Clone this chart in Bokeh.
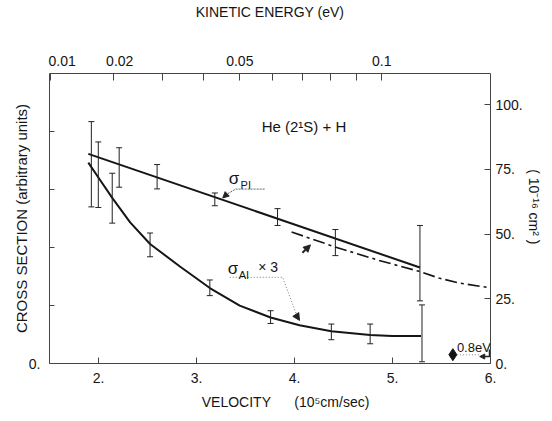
import math
from bokeh.plotting import figure
from bokeh.models import Range1d, LinearAxis, FixedTicker, Label, Arrow, NormalHead
from bokeh.embed import file_html
from bokeh.resources import INLINE

FONT = "Liberation Sans"
INK = "#151515"
NB = "\u00a0"

# ---------------- data ----------------
vel_ticks = [2, 3, 4, 5, 6]
vel_labels = ["2.", "3.", "4.", "5.", "6."]
ke_ticks = [0.01, 0.02, 0.03, 0.04, 0.05, 0.06, 0.07, 0.08, 0.09, 0.1, 0.15]
ke_labels = [NB * 6 + "0.01", NB * 3 + "0.02", "", "", "0.05", "", "", "", "",
             "0.1", "0.15" + NB * 2]
left_ticks = [0, 1, 2, 3, 4]
left_labels = ["0.", "", "", "", ""]
right_ticks = [0, 25, 50, 75, 100]
right_labels = ["0.", "25.", "50.", "75.", "100."]

# sigma_PI : straight line and error bars (arbitrary units)
pi_line_v = [1.896, 5.280]
pi_line_y = [3.615, 1.655]
pi_bar_v = [1.927, 2.211, 2.598, 3.187, 3.827, 4.417, 5.280]
pi_bar_lo = [2.70, 3.04, 3.01, 2.72, 2.38, 1.86, 1.08]
pi_bar_hi = [4.17, 3.72, 3.43, 2.94, 2.67, 2.31, 2.38]

# sigma_AI x 3 : curve and error bars (arbitrary units)
ai_curve_v = [1.896, 2.018, 2.140, 2.323, 2.526, 2.831, 3.136, 3.441, 3.756,
              4.051, 4.376, 4.772, 4.996, 5.291]
ai_curve_y = [3.463, 3.159, 2.855, 2.432, 2.061, 1.672, 1.301, 0.997, 0.794,
              0.659, 0.557, 0.490, 0.473, 0.473]
ai_bar_v = [1.998, 2.140, 2.526, 3.136, 3.756, 4.376, 4.772, 5.301]
ai_bar_lo = [2.69, 2.42, 1.84, 1.17, 0.69, 0.41, 0.34, 0.03]
ai_bar_hi = [3.82, 3.28, 2.25, 1.44, 0.91, 0.68, 0.68, 1.01]

# dash-dot curve, absolute units (1e-16 cm^2)
th_v = [3.970, 4.407, 4.864, 5.270, 5.474, 5.677, 6.0]
th_sigma = [50.8, 45.1, 39.8, 35.6, 33.0, 31.1, 29.2]

# 0.8 eV marker
mark_v = [5.616]
mark_y = [0.152]


def ke_to_vel(e):
    # kinetic-energy scale of the top axis, as printed
    return 1.51 + 15.63 * (math.sqrt(e) - 0.1)


top_pos = [ke_to_vel(e) for e in ke_ticks]

p = figure(width=544, height=413, x_range=Range1d(1.5, 6), y_range=Range1d(0, 5),
           output_backend="svg", toolbar_location=None,
           x_axis_location=None, y_axis_location=None,
           min_border_left=49, min_border_right=52, min_border_top=67, min_border_bottom=50)
p.extra_y_ranges = {"abs": Range1d(0, 112)}
p.xgrid.visible = False
p.ygrid.visible = False
p.outline_line_color = None
p.background_fill_color = "white"
p.border_fill_color = "white"


def style(ax, tick_in, standoff, title, title_size, title_standoff):
    ax.major_tick_in = tick_in
    ax.major_tick_out = 0
    ax.minor_tick_in = 0
    ax.minor_tick_out = 0
    ax.axis_line_color = "#444"
    ax.axis_line_width = 1
    ax.major_tick_line_color = "#444"
    ax.major_label_text_font = FONT
    ax.major_label_text_font_size = "14px"
    ax.major_label_text_color = INK
    ax.major_label_standoff = standoff
    ax.axis_label = title
    ax.axis_label_text_font = FONT
    ax.axis_label_text_font_size = title_size
    ax.axis_label_text_font_style = "normal"
    ax.axis_label_text_color = INK
    ax.axis_label_standoff = title_standoff


bottom = LinearAxis(ticker=FixedTicker(ticks=vel_ticks, minor_ticks=[]),
                    major_label_overrides=dict(zip(vel_ticks, vel_labels)))
style(bottom, 6, 9, NB * 8 + "VELOCITY" + NB * 6 + "(10\u2075cm/sec)", "14px", 8)
p.add_layout(bottom, "below")

top = LinearAxis(ticker=FixedTicker(ticks=top_pos, minor_ticks=[]),
                 major_label_overrides=dict(zip(top_pos, ke_labels)))
style(top, 7, 5, "KINETIC ENERGY (eV)", "14px", 30)
p.add_layout(top, "above")

left = LinearAxis(ticker=FixedTicker(ticks=left_ticks, minor_ticks=[]),
                  major_label_overrides=dict(zip(left_ticks, left_labels)))
style(left, 5, 9, "CROSS SECTION (arbitrary units)", "15px", -4)
p.add_layout(left, "left")

right = LinearAxis(y_range_name="abs", ticker=FixedTicker(ticks=right_ticks, minor_ticks=[]),
                   major_label_overrides=dict(zip(right_ticks, right_labels)))
style(right, 6, 5, "( 10\u207b\u00b9\u2076 cm\u00b2 )" + NB * 6, "14px", 0)
p.add_layout(right, "right")

# ---------------- marks ----------------
p.line(pi_line_v, pi_line_y, line_width=2, line_color=INK)
p.segment(pi_bar_v, pi_bar_lo, pi_bar_v, pi_bar_hi, line_width=1, line_color="#222")
p.scatter(pi_bar_v + pi_bar_v, pi_bar_lo + pi_bar_hi, marker="dash", size=6,
          line_color="#222", line_width=1)

p.line(ai_curve_v, ai_curve_y, line_width=2, line_color=INK)
p.segment(ai_bar_v, ai_bar_lo, ai_bar_v, ai_bar_hi, line_width=1, line_color="#222")
p.scatter(ai_bar_v + ai_bar_v, ai_bar_lo + ai_bar_hi, marker="dash", size=6,
          line_color="#222", line_width=1)

p.line(th_v, th_sigma, y_range_name="abs", line_dash="12 4 3 4", line_width=1.6,
       line_color=INK)

p.scatter(mark_v, mark_y, marker="diamond", size=12, color=INK)


def lab(x, y, text, size="14px", align="left", baseline="middle"):
    p.add_layout(Label(x=x, y=y, text=text,
                       text_font=FONT, text_font_size=size, text_color=INK,
                       text_align=align, text_baseline=baseline))


# annotations in the plot
lab(3.665, 4.09, "He (2\u00b9S) + H", size="15px")
lab(3.33, 3.19, "\u03c3", size="17px")
lab(3.45, 3.08, "PI", size="11px")
lab(3.32, 1.64, "\u03c3", size="17px")
lab(3.43, 1.53, "AI", size="11px")
lab(3.63, 1.66, "\u00d7 3", size="14px")
lab(5.657, 0.27, "0.8eV", size="13px")

# leader lines
p.line([3.695, 3.40, 3.31], [3.007, 3.007, 2.92], line_width=1, line_color="#666",
       line_dash="2 1")
p.add_layout(Arrow(x_start=3.31, y_start=2.92, x_end=3.268, y_end=2.855,
                   line_color="#444", line_width=1,
                   end=NormalHead(size=6, fill_color="#222", line_color="#222")))
p.line([3.339, 3.878, 4.03], [1.486, 1.486, 0.80], line_width=1, line_color="#777",
       line_dash="1 2")
p.add_layout(Arrow(x_start=4.03, y_start=0.80, x_end=4.051, y_end=0.743,
                   line_color="#444", line_width=1,
                   end=NormalHead(size=7, fill_color="#222", line_color="#222")))
p.add_layout(Arrow(x_start=4.081, y_start=1.909, x_end=4.163, y_end=2.045,
                   line_color="#222", line_width=2,
                   end=NormalHead(size=7, fill_color="#222", line_color="#222")))
p.line([5.657, 5.88], [0.15, 0.15], line_width=1, line_color="#888", line_dash="1 2")
p.line([5.99, 5.99, 5.93], [0.24, 0.12, 0.12], line_width=1.5, line_color="#222")
p.add_layout(Arrow(x_start=5.93, y_start=0.12, x_end=5.89, y_end=0.12,
                   line_color="#222", line_width=1.5,
                   end=NormalHead(size=5, fill_color="#222", line_color="#222")))

open("out.html", "w").write(file_html(p, INLINE))
